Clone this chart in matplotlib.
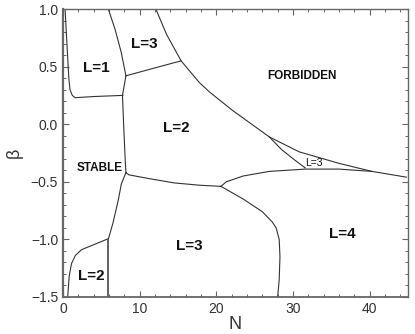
import matplotlib
matplotlib.use("Agg")
import matplotlib.pyplot as plt
from matplotlib.ticker import MultipleLocator

plt.rcParams['font.family'] = ['Liberation Sans', 'DejaVu Sans']

# Boundary curves (N, beta)
l1_left_x = [0.26, 0.5, 0.75, 0.9, 1.2, 1.56, 4.0, 7.8]
l1_left_y = [1.0, 0.7, 0.4, 0.30, 0.25, 0.23, 0.24, 0.25]

l1_l3_x = [5.9, 6.8, 7.6, 8.2]
l1_l3_y = [1.0, 0.82, 0.62, 0.42]

vert_x = [8.2, 7.75, 7.9, 8.1, 8.2]
vert_y = [0.42, 0.25, 0.0, -0.3, -0.42]

l3_l2_x = [8.2, 11.5, 15.4]
l3_l2_y = [0.42, 0.48, 0.55]

forb_x = [12.1, 13.5, 15.4, 17.8, 19.1, 22.1, 26.9, 30.8, 36.0, 40.3, 44.8]
forb_y = [1.0, 0.78, 0.55, 0.36, 0.28, 0.12, -0.11, -0.24, -0.34, -0.41, -0.46]

small_l3_x = [26.9, 28.5, 30.2, 31.6]
small_l3_y = [-0.11, -0.22, -0.31, -0.38]

upper_l4_x = [20.6, 21.3, 23.5, 26.9, 31.6, 36.0, 40.3]
upper_l4_y = [-0.54, -0.50, -0.45, -0.41, -0.39, -0.39, -0.41]

stable_l3_x = [8.2, 8.6, 11.0, 14.5, 17.8, 20.6]
stable_l3_y = [-0.42, -0.44, -0.47, -0.51, -0.53, -0.54]

l3_l4_x = [20.6, 23.5, 26.0, 27.3, 27.8, 28.2, 28.3, 28.2, 28.0]
l3_l4_y = [-0.54, -0.65, -0.76, -0.85, -0.90, -1.0, -1.15, -1.35, -1.5]

stable_l2_x = [8.2, 7.6, 7.2, 6.5, 5.9]
stable_l2_y = [-0.42, -0.52, -0.66, -0.86, -1.0]

l2_vert_x = [5.88, 5.88]
l2_vert_y = [-1.0, -1.5]

l2_curve_x = [0.6, 0.8, 1.1, 1.6, 2.4, 3.5, 4.6, 5.7]
l2_curve_y = [-1.5, -1.32, -1.21, -1.14, -1.09, -1.06, -1.03, -1.0]

curves = [
    (l1_left_x, l1_left_y), (l1_l3_x, l1_l3_y), (vert_x, vert_y),
    (l3_l2_x, l3_l2_y), (forb_x, forb_y), (small_l3_x, small_l3_y),
    (upper_l4_x, upper_l4_y), (stable_l3_x, stable_l3_y),
    (l3_l4_x, l3_l4_y), (stable_l2_x, stable_l2_y),
    (l2_curve_x, l2_curve_y),
]

# Region labels
labels = ["L=1", "L=3", "L=2", "STABLE", "FORBIDDEN", "L=3", "L=3", "L=4", "L=2"]
label_x = [4.4, 10.6, 14.8, 4.8, 31.2, 32.7, 16.5, 36.4, 3.7]
label_y = [0.49, 0.70, -0.03, -0.38, 0.42, -0.34, -1.06, -0.95, -1.32]
label_size = [11, 11, 11, 8.5, 8.5, 7.5, 11, 11, 11]
label_weight = ["bold", "bold", "bold", "bold", "bold", "normal", "bold", "bold", "bold"]

fig = plt.figure(figsize=(4.15, 3.34), dpi=100)
ax = fig.add_axes([0.152, 0.111, 0.831, 0.862])

for cx, cy in curves:
    ax.plot(cx, cy, color='#333333', lw=0.8)
ax.plot(l2_vert_x, l2_vert_y, color='#555555', lw=1.3)

for t, x, y, s, w in zip(labels, label_x, label_y, label_size, label_weight):
    ax.text(x, y, t, fontsize=s, fontweight=w, ha='center', va='center', color='#111111')

ax.set_xlim(0, 45)
ax.set_ylim(-1.5, 1.0)
ax.xaxis.set_major_locator(MultipleLocator(10))
ax.xaxis.set_minor_locator(MultipleLocator(2))
ax.yaxis.set_major_locator(MultipleLocator(0.5))
ax.yaxis.set_minor_locator(MultipleLocator(0.1))
ax.tick_params(which='both', direction='in', top=True, right=True, colors='#666666',
               labelcolor='#333333', labelsize=10)
ax.tick_params(which='major', length=4, width=0.8)
ax.tick_params(which='minor', length=2.5, width=0.7)
for sp in ax.spines.values():
    sp.set_color('#666666')
    sp.set_linewidth(1.0)
ax.spines['left'].set_linewidth(1.6)
ax.spines['bottom'].set_linewidth(1.3)

ax.set_xlabel('N', fontsize=13, color='#333333', labelpad=0)
ax.set_ylabel('β', fontsize=13, color='#333333', labelpad=6)

fig.savefig('out.png', dpi=100)
